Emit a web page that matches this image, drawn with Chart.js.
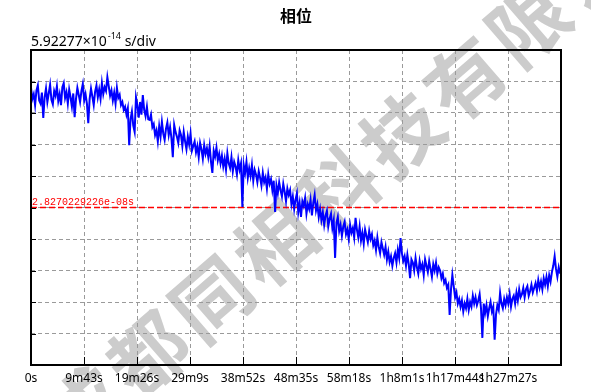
<!DOCTYPE html>
<html>
<head>
<meta charset="utf-8">
<script src="https://cdn.jsdelivr.net/npm/chart.js@4/dist/chart.umd.min.js"></script>
<style>
  html, body { margin: 0; padding: 0; background: #fff; }
  #wrap { width: 591px; height: 392px; }
</style>
</head>
<body>
<div id="wrap"><canvas id="phaseChart" width="591" height="392"></canvas></div>
<script>
// chart texts
const chartTitle = '相位';
const scaleLabel = '5.92277×10';
const scaleExp = '-14';
const scaleUnit = ' s/div';
const refLabel = '2.8270229226e-08s';
const watermark = '成都同相科技有限公司';

// x axis: one division = 583 s
const divSeconds = 583;
const divCount = 10;
const tickLabels = ['0s', '9m43s', '19m26s', '29m9s', '38m52s', '48m35s', '58m18s', '1h8m1s', '1h17m44s', '1h27m27s'];

// phase samples every 15 s, in divisions relative to the reference value
const sampleStep = 15;
const phaseDiv = [
  3.80, 3.45, 3.60, 3.25, 3.72, 3.88, 3.40, 3.30, 3.65, 2.84,
  3.50, 3.78, 3.35, 3.62, 3.90, 3.42, 3.28, 3.70, 3.55, 3.85,
  3.38, 3.60, 3.25, 3.82, 3.95, 3.48, 3.66, 3.30, 3.75, 3.50,
  3.20, 3.62, 2.87, 3.45, 3.80, 3.58, 3.35, 3.70, 3.92, 3.40,
  3.60, 3.30, 2.68, 3.45, 3.78, 3.52, 3.25, 3.68, 3.88, 3.50,
  3.75, 3.45, 3.95, 3.60, 3.82, 3.70, 4.14, 3.85, 3.55, 3.72,
  3.40, 3.65, 3.30, 3.80, 3.48, 3.58, 3.25, 3.35, 3.10, 3.20,
  2.95, 3.15, 1.98, 2.80, 3.05, 2.60, 2.40, 3.50, 3.25, 2.85,
  3.35, 2.95, 3.57, 3.10, 2.90, 3.20, 2.80, 2.78, 2.95, 2.55,
  2.65, 2.30, 2.45, 2.10, 2.58, 2.25, 2.72, 2.35, 2.15, 2.50,
  2.70, 2.30, 2.55, 2.20, 1.60, 2.62, 2.40, 2.25, 2.05, 2.45,
  2.30, 1.95, 2.40, 2.10, 1.85, 2.25, 2.00, 2.35, 1.80, 1.95,
  2.10, 1.75, 1.95, 1.60, 2.05, 1.85, 1.55, 1.98, 1.70, 1.88,
  1.60, 1.95, 1.45, 1.10, 1.80, 1.62, 1.90, 1.50, 1.70, 1.40,
  1.65, 1.30, 1.55, 1.20, 1.72, 1.40, 1.25, 1.60, 1.15, 1.45,
  1.30, 1.05, 1.50, 1.20, 1.40, 0.02, 1.35, 1.10, 1.45, 0.95,
  1.25, 1.00, 1.35, 0.85, 1.20, 1.05, 0.80, 1.15, 0.95, 0.70,
  1.10, 0.80, 0.95, 0.60, 1.05, 0.75, 0.90, 0.55, 0.85, -0.14,
  0.70, 0.45, 0.80, 0.55, 0.35, 0.75, 0.50, 0.20, 0.60, 0.40,
  0.55, 0.10, 0.35, -0.05, 0.25, 0.45, -0.15, 0.15, -0.30, 0.20,
  0.05, 0.30, -0.20, 0.10, -0.05, 0.25, -0.25, 0.15, 0.40, -0.10,
  0.10, -0.30, -0.05, -0.40, -0.15, -0.55, -0.25, -0.10, -0.60, -0.35,
  -0.20, -0.65, -0.40, -1.60, -0.50, -0.30, -0.75, -0.55, -0.90, -0.60,
  -0.45, -0.85, -0.70, -1.00, -0.55, -0.80, -0.65, -0.95, -0.33, -0.70,
  -0.95, -0.60, -1.05, -0.80, -1.15, -0.70, -0.90, -1.10, -0.75, -1.00,
  -0.85, -1.20, -1.05, -1.35, -0.95, -1.25, -1.45, -1.10, -1.30, -1.50,
  -1.25, -1.65, -1.40, -1.73, -1.55, -1.85, -1.60, -1.45, -1.75, -1.35,
  -1.60, -0.97, -1.45, -1.70, -1.55, -1.85, -1.50, -1.80, -2.24, -1.65,
  -1.75, -2.00, -1.60, -1.90, -2.10, -1.70, -1.95, -1.80, -2.15, -1.65,
  -1.85, -2.05, -1.70, -1.95, -2.20, -1.80, -2.00, -1.75, -2.10, -1.90,
  -2.00, -2.25, -2.10, -2.40, -2.30, -2.55, -2.45, -3.41, -2.60, -2.14,
  -2.50, -2.85, -2.70, -3.05, -2.90, -3.15, -2.95, -3.30, -3.05, -3.20,
  -2.90, -3.25, -3.00, -3.15, -2.80, -3.05, -2.85, -3.10, -2.95, -2.75,
  -3.20, -4.14, -3.05, -3.35, -3.10, -3.45, -3.20, -3.00, -3.30, -3.15,
  -4.20, -3.40, -3.10, -3.25, -2.71, -3.05, -3.20, -2.90, -3.10, -2.85,
  -3.05, -2.75, -3.15, -2.90, -2.80, -3.05, -2.70, -2.95, -2.60, -2.85,
  -2.75, -2.55, -2.85, -2.60, -2.50, -2.80, -2.65, -2.45, -2.70, -2.55,
  -2.40, -2.65, -2.30, -2.55, -2.35, -2.60, -2.25, -2.45, -2.20, -2.50,
  -2.15, -2.35, -2.05, -1.85, -1.55, -1.95, -2.20, -1.90, -2.10
];
const refValue = 0;

const xMax = divSeconds * divCount;
const phasePoints = phaseDiv.map((v, i) => ({ x: i * sampleStep, y: v }));

// background, watermark, frame and texts
const decorations = {
  id: 'decorations',
  beforeDraw(chart) {
    const ctx = chart.ctx;
    ctx.save();
    ctx.fillStyle = '#fff';
    ctx.fillRect(0, 0, chart.width, chart.height);
    ctx.translate(148, 354);
    ctx.rotate(-Math.atan2(330, 380));
    ctx.fillStyle = '#cccccc';
    ctx.font = 'bold 78px "Noto Sans CJK SC"';
    ctx.textAlign = 'center';
    ctx.textBaseline = 'middle';
    [...watermark].forEach((ch, k) => ctx.fillText(ch, (k - 1) * 84, 0));
    ctx.restore();
  },
  afterDraw(chart) {
    const ctx = chart.ctx;
    const a = chart.chartArea;
    const xs = chart.scales.x, ys = chart.scales.y;
    ctx.save();
    // inner tick marks
    ctx.strokeStyle = '#000';
    ctx.lineWidth = 1;
    ctx.beginPath();
    for (let i = 1; i < divCount; i++) {
      const px = Math.round(xs.getPixelForValue(i * divSeconds)) + 0.5;
      ctx.moveTo(px, a.bottom);
      ctx.lineTo(px, a.bottom - 8);
    }
    for (let v = -4; v <= 4; v++) {
      const py = Math.round(ys.getPixelForValue(v)) + 0.5;
      ctx.moveTo(a.left, py);
      ctx.lineTo(a.left + 5, py);
    }
    ctx.stroke();
    // frame
    ctx.lineWidth = 2;
    ctx.strokeRect(a.left, a.top, a.right - a.left, a.bottom - a.top);
    // title
    ctx.fillStyle = '#000';
    ctx.font = 'bold 16px "Noto Sans CJK SC"';
    ctx.textAlign = 'center';
    ctx.textBaseline = 'middle';
    ctx.fillText(chartTitle, (a.left + a.right) / 2, 16);
    // scale label with exponent
    ctx.textAlign = 'left';
    ctx.textBaseline = 'alphabetic';
    ctx.font = '14px "Noto Sans"';
    let x = a.left;
    ctx.fillText(scaleLabel, x, 46);
    x += ctx.measureText(scaleLabel).width;
    ctx.font = '9px "Noto Sans"';
    ctx.fillText(scaleExp, x + 1, 39);
    x += ctx.measureText(scaleExp).width + 1;
    ctx.font = '14px "Noto Sans"';
    ctx.fillText(scaleUnit, x, 46);
    // reference value label
    ctx.fillStyle = '#ff0000';
    ctx.font = '10px "Liberation Mono"';
    ctx.fillText(refLabel, a.left + 1, ys.getPixelForValue(refValue) - 3);
    ctx.restore();
  }
};

new Chart(document.getElementById('phaseChart'), {
  type: 'line',
  data: {
    datasets: [
      {
        label: 'phase',
        data: phasePoints,
        borderColor: '#0000ff',
        borderWidth: 2,
        pointRadius: 0,
        tension: 0
      },
      {
        label: 'reference',
        data: [{ x: 0, y: refValue }, { x: xMax, y: refValue }],
        borderColor: '#ff0000',
        borderWidth: 1.5,
        borderDash: [6, 3],
        pointRadius: 0
      }
    ]
  },
  options: {
    responsive: false,
    animation: false,
    layout: { padding: { left: 31, right: 30, top: 50, bottom: 0 } },
    plugins: {
      legend: { display: false },
      title: { display: false },
      tooltip: { enabled: false }
    },
    scales: {
      x: {
        type: 'linear',
        min: 0,
        max: xMax,
        afterFit: s => { s.height = 27; },
        afterBuildTicks: s => { s.ticks = tickLabels.concat(['']).map((_, i) => ({ value: i * divSeconds })); },
        ticks: {
          autoSkip: false,
          maxRotation: 0,
          padding: 6,
          color: '#000',
          font: { family: '"Noto Sans"', size: 12 },
          callback: (value, index) => tickLabels[index] ?? ''
        },
        grid: { color: '#9a9a9a', lineWidth: 1, drawTicks: false },
        border: { display: false, dash: [4, 3] }
      },
      y: {
        min: -5,
        max: 5,
        afterFit: s => { s.width = 0; },
        ticks: { display: false, stepSize: 1 },
        grid: { color: '#9a9a9a', lineWidth: 1, drawTicks: false },
        border: { display: false, dash: [4, 3] }
      }
    }
  },
  plugins: [decorations]
});
</script>
</body>
</html>
